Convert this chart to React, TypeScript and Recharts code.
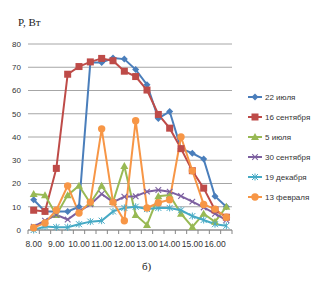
import React from "react";
import { LineChart, Line, XAxis, YAxis, CartesianGrid } from "recharts";

const times = ["8.00","8.30","9.00","9.30","10.00","10.30","11.00","11.30","12.00","12.30","13.00","13.30","14.00","14.30","15.00","15.30","16.00","16.30"];
const july22 = [13, 8, 8, 8, 10, 72, 72, 74, 73.5, 69, 62.5, 48, 51, 35, 33, 30.5, 14.5, 10];
const sep16 = [8.5, 8, 26.5, 67, 70.3, 72.3, 73.8, 72.8, 68.3, 66, 60.2, 49.7, 43.8, 35, 25.5, 18, 8.6, 5.5];
const july5 = [15.5, 15, 6.5, 15, 19, 11.5, 19, 12, 27.5, 6.5, 2.2, 14.5, 15, 7, 1.3, 7, 3.5, 10];
const sep30 = [1.4, 4, 6.5, 4.5, 8, 11, 15.5, 12, 14.3, 14.5, 16.5, 17.2, 16.5, 14.6, 12.2, 9.7, 7, 4.3];
const dec19 = [0, 1.5, 1.2, 1.2, 2.5, 3.6, 4, 8, 9.5, 10, 9, 9.5, 9.5, 8.5, 6, 4.3, 2.5, 1.8];
const feb13 = [1, 3, 8.5, 19, 7.3, 12, 43.5, 12, 4, 47, 9.5, 11.7, 13, 40, 25.5, 11, 9, 5.5];
const yTicks = [0, 10, 20, 30, 40, 50, 60, 70, 80];

const series = [
  { key: "s1", name: "22 июля", values: july22, color: "#4A7EBB", marker: "diamond" },
  { key: "s2", name: "16 сентября", values: sep16, color: "#BE4B48", marker: "square" },
  { key: "s3", name: "5 июля", values: july5, color: "#98B954", marker: "triangle" },
  { key: "s4", name: "30 сентября", values: sep30, color: "#7D60A0", marker: "x" },
  { key: "s5", name: "19 декабря", values: dec19, color: "#46AAC5", marker: "star" },
  { key: "s6", name: "13 февраля", values: feb13, color: "#F79646", marker: "circle" },
];

const data = times.map((t, i) => {
  const row: any = { x: i, time: t };
  series.forEach((s) => (row[s.key] = s.values[i]));
  return row;
});

const xTicks: number[] = [];
for (let i = 0; i <= times.length * 2; i++) xTicks.push(-0.5 + i * 0.5);

function Mk({ type, cx, cy, color }: any) {
  if (cx == null || cy == null) return null;
  switch (type) {
    case "diamond":
      return <polygon points={`${cx},${cy - 3.5} ${cx + 3.5},${cy} ${cx},${cy + 3.5} ${cx - 3.5},${cy}`} fill={color} />;
    case "square":
      return <rect x={cx - 3.5} y={cy - 3.5} width={7} height={7} fill={color} />;
    case "triangle":
      return <polygon points={`${cx},${cy - 4} ${cx + 4},${cy + 3} ${cx - 4},${cy + 3}`} fill={color} />;
    case "x":
      return (
        <g stroke={color} strokeWidth={1.1}>
          <line x1={cx - 2.8} y1={cy - 2.8} x2={cx + 2.8} y2={cy + 2.8} />
          <line x1={cx - 2.8} y1={cy + 2.8} x2={cx + 2.8} y2={cy - 2.8} />
        </g>
      );
    case "star":
      return (
        <g stroke={color} strokeWidth={1}>
          <line x1={cx - 3} y1={cy - 3} x2={cx + 3} y2={cy + 3} />
          <line x1={cx - 3} y1={cy + 3} x2={cx + 3} y2={cy - 3} />
          <line x1={cx} y1={cy - 3.5} x2={cx} y2={cy + 3.5} />
        </g>
      );
    default:
      return <circle cx={cx} cy={cy} r={3.7} fill={color} />;
  }
}

function XTick(props: any) {
  const { x, y, payload } = props;
  const v = payload.value;
  const isBoundary = Math.abs(v - Math.round(v)) > 0.1;
  const idx = Math.round(v);
  const showLabel = !isBoundary && idx % 2 === 0 && times[idx];
  return (
    <g>
      {isBoundary && <line x1={x} y1={y} x2={x} y2={y + 4} stroke="#868686" strokeWidth={1} />}
      {showLabel && (
        <text x={x} y={y + 17} textAnchor="middle" fontSize={8.5} fill="#333" fontFamily="'Liberation Sans Narrow', 'Liberation Sans', Arial, sans-serif">
          {times[idx]}
        </text>
      )}
    </g>
  );
}

const font = "'Liberation Sans', Arial, sans-serif";

export default function App() {
  return (
    <div style={{ position: "relative", width: 315, height: 284 }}>
      <LineChart width={315} height={284} data={data} margin={{ top: 36, right: 91, bottom: 42, left: 0 }}>
        <CartesianGrid vertical={false} stroke="#a6a6a6" strokeWidth={1} />
        <XAxis
          dataKey="x"
          type="number"
          domain={[-0.5, 17.5]}
          ticks={xTicks}
          interval={0}
          height={20}
          tickSize={0}
          tickMargin={0}
          tickLine={false}
          axisLine={{ stroke: "#868686" }}
          tick={<XTick />}
        />
        <YAxis
          domain={[0, 80]}
          ticks={yTicks}
          width={20}
          tickSize={0}
          tickMargin={7}
          axisLine={false}
          tickLine={false}
          tick={{ fontSize: 8, fill: "#333", fontFamily: font }}
        />
        {series.map((s) => (
          <Line
            key={s.key}
            dataKey={s.key}
            name={s.name}
            type="linear"
            stroke={s.color}
            strokeWidth={2}
            isAnimationActive={false}
            dot={(p: any) => <Mk key={`${s.key}-${p.index}`} type={s.marker} cx={p.cx} cy={p.cy} color={s.color} />}
            activeDot={false}
          />
        ))}
      </LineChart>
      <div style={{ position: "absolute", left: 10, top: 8, fontFamily: "'Liberation Serif', 'Times New Roman', serif", fontSize: 11, lineHeight: "13px", color: "#222" }}>
        P, Вт
      </div>
      <div style={{ position: "absolute", left: 134, top: 252, fontFamily: "'Liberation Serif', 'Times New Roman', serif", fontSize: 11, lineHeight: "13px", color: "#222" }}>
        б)
      </div>
      {series.map((s, i) => (
        <div key={s.key} style={{ position: "absolute", left: 239, top: 83 + i * 20, height: 12, display: "flex", alignItems: "center" }}>
          <svg width={16} height={12} style={{ display: "block" }}>
            <line x1={1} y1={6} x2={15} y2={6} stroke={s.color} strokeWidth={2} />
            <Mk type={s.marker} cx={8} cy={6} color={s.color} />
          </svg>
          <span style={{ marginLeft: 2, fontFamily: font, fontSize: 8, color: "#333", whiteSpace: "nowrap" }}>{s.name}</span>
        </div>
      ))}
    </div>
  );
}
